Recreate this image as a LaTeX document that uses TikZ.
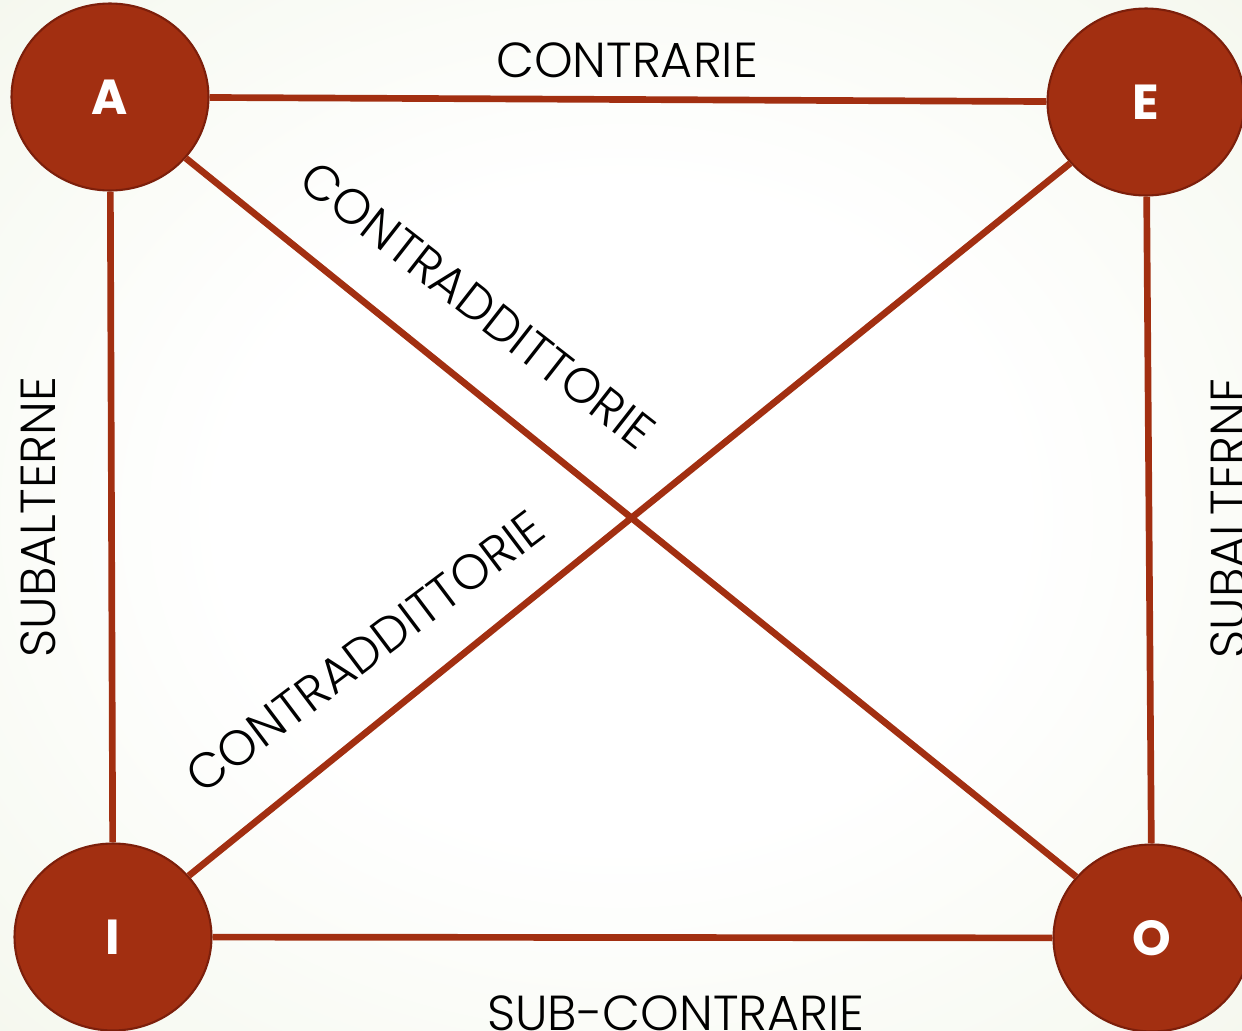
\documentclass[tikz,border=0pt]{standalone}
\usepackage{fontspec}
\setmainfont{Poppins Light}
\newfontfamily\lettrefont{Poppins}
\usetikzlibrary{shapes.geometric}
\definecolor{SquareRed}{HTML}{A22F11}
\definecolor{RimRed}{HTML}{7C1F0B}
\definecolor{PaperGreen}{HTML}{EDF2E1}
\pgfdeclareradialshading{paper}{\pgfpoint{0bp}{0bp}}{%
  color(0bp)=(white); color(16bp)=(white); color(52bp)=(PaperGreen);
  color(100bp)=(PaperGreen)}

\begin{document}
\begin{tikzpicture}[x=0.02cm,y=-0.02cm,
    vertex/.style={ellipse,draw=RimRed,line width=1.2pt,fill=SquareRed,
      minimum width=3.94cm,minimum height=3.74cm,inner sep=0pt,
      text=white,font=\lettrefont\bfseries\fontsize{28}{30}\selectfont},
    relation/.style={draw=SquareRed,line width=3.8pt},
    tag/.style={inner sep=0pt,font=\fontsize{28}{30}\selectfont}
  ]
    \useasboundingbox (0,0) rectangle (1242,1031);
    \clip (0,0) rectangle (1242,1031);
    \shade[shading=paper] (0,0) rectangle (1242,1031);

    % the four corners of the square
    \node[vertex] (A) at (110,97) {A};
    \node[vertex] (E) at (1146,102) {E};
    \node[vertex] (I) at (113,937) {I};
    \node[vertex] (O) at (1152,938) {O};

    \draw[relation] (A) -- (E);
    \draw[relation] (I) -- (O);
    \draw[relation] (A) -- (I);
    \draw[relation] (E) -- (O);
    \draw[relation] (A) -- (O);
    \draw[relation] (E) -- (I);

    % relation names
    \node[tag] (contrarie) at (627,60) {CONTRARIE};
    \node[tag] (subcontrarie) at (676,1013) {SUB-CONTRARIE};
    \node[tag,rotate=90] (subaltL) at (38,517) {SUBALTERNE};
    \node[tag,rotate=90] (subaltR) at (1228,518) {SUBALTERNE};
    \node[tag,rotate=-38] (contraddA) at (478,305) {CONTRADDITTORIE};
    \node[tag,rotate=37] (contraddI) at (365,652) {CONTRADDITTORIE};
\end{tikzpicture}
\end{document}
